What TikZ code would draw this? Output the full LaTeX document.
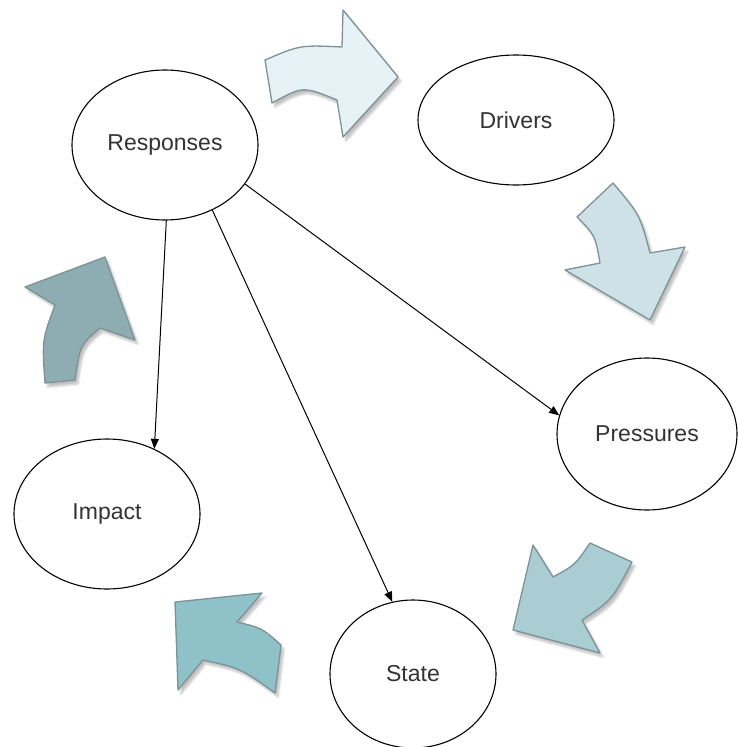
\documentclass[tikz,border=0pt]{standalone}
\usepackage{fontspec}
\setmainfont{Liberation Sans}
\usetikzlibrary{shapes.geometric,arrows.meta,shadows.blur}
\definecolor{txt}{HTML}{333333}
\definecolor{aone}{HTML}{E6F2F5}
\definecolor{atwo}{HTML}{CDE1E6}
\definecolor{athree}{HTML}{8EADB2}
\definecolor{afour}{HTML}{A9CDD2}
\definecolor{afive}{HTML}{8FC1C8}
\definecolor{aline}{HTML}{7D9296}
\tikzset{
  bubble/.style={ellipse, draw=black, line width=1.1pt, fill=white, inner sep=0pt,
    font=\fontsize{23}{27}\selectfont, text=txt},
  link/.style={-{Triangle[length=10pt,width=8pt]}, line width=1pt, black},
  flow/.style={draw=aline, line width=1.3pt, line join=round,
    blur shadow={shadow xshift=3pt, shadow yshift=-4pt, shadow blur steps=6, shadow opacity=25}}
}
\begin{document}
\begin{tikzpicture}[x=1pt,y=-1pt]
\useasboundingbox (0,0) rectangle (737,747);
% block arrows
\path[flow, fill=aone] (265,60) .. controls (300,45) .. (342,47) -- (343,10) -- (398,77) -- (343,137) -- (337,100) .. controls (303,86) .. (272,103) -- cycle;
\path[flow, fill=atwo] (577,217) -- (613,183) .. controls (640,215) .. (650,253) -- (685,247) -- (650,320) -- (565,270) -- (600,263) .. controls (595,235) .. (577,217) -- cycle;
\path[flow, fill=athree] (45,383) -- (75,380) .. controls (80,345) .. (100,328) -- (135,340) -- (105,257) -- (25,287) -- (55,305) .. controls (42,340) .. (45,383) -- cycle;
\path[flow, fill=afour] (632,562) -- (590,543) .. controls (575,565) .. (553,577) -- (533,545) -- (513,630) -- (600,653) -- (582,620) .. controls (612,600) .. (632,562) -- cycle;
\path[flow, fill=afive] (175,602) -- (262,593) -- (237,622) .. controls (262,628) .. (281,645) -- (275,693) .. controls (240,668) .. (203,660) -- (178,690) -- cycle;
% nodes
\node[bubble, minimum width=186pt, minimum height=150pt] (resp) at (165,145) {Responses};
\node[bubble, minimum width=196pt, minimum height=130pt] (drv) at (516,120) {Drivers};
\node[bubble, minimum width=180pt, minimum height=152pt] (pres) at (647,434) {Pressures};
\node[bubble, minimum width=186pt, minimum height=150pt] (imp) at (107,514) {Impact};
\node[bubble, minimum width=166pt, minimum height=148pt] (state) at (413,674) {State};
% connectors
\draw[link] (resp.-89) -- (imp.54);
\draw[link] (resp.-54) -- (state.106);
\draw[link] (resp.-26) -- (pres.168);
\end{tikzpicture}
\end{document}
